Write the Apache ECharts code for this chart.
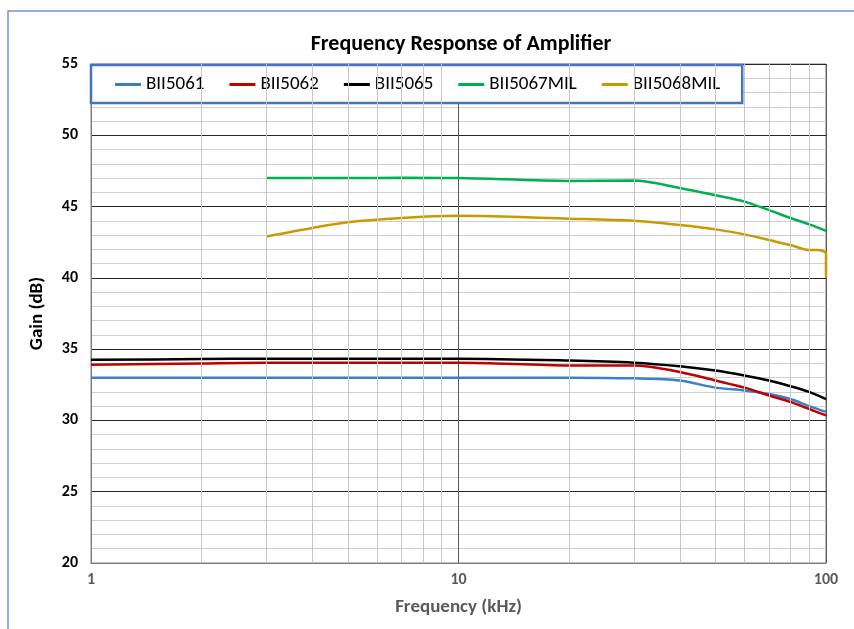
<!DOCTYPE html>
<html>
<head>
<meta charset="utf-8">
<script src="https://cdn.jsdelivr.net/npm/echarts@6/dist/echarts.min.js"></script>
<style>
  html, body { margin: 0; padding: 0; background: #fff; }
  #main { width: 854px; height: 629px; }
</style>
</head>
<body>
<div id="main"></div>
<script>
// frequencies (kHz)
var freqLow = [1, 2, 3, 5, 10, 20, 30, 40, 50, 60, 70, 80, 90, 100];
var freqMil = [3, 4, 5, 7, 10, 20, 30, 40, 50, 60, 70, 80, 90, 100];
var freqMil68 = [3, 4, 5, 7, 10, 20, 30, 40, 50, 60, 70, 80, 90, 95, 100, 100];

// gain (dB)
var bii5061 = [33.0, 33.0, 33.0, 33.0, 33.0, 33.0, 32.95, 32.8, 32.3, 32.1, 31.85, 31.5, 31.0, 30.6];
var bii5062 = [33.9, 34.0, 34.05, 34.05, 34.05, 33.85, 33.85, 33.4, 32.8, 32.3, 31.75, 31.3, 30.8, 30.35];
var bii5065 = [34.25, 34.3, 34.33, 34.33, 34.33, 34.2, 34.05, 33.8, 33.5, 33.15, 32.8, 32.4, 32.0, 31.5];
var bii5067mil = [47.0, 47.0, 47.0, 47.02, 47.0, 46.8, 46.82, 46.3, 45.8, 45.35, 44.75, 44.2, 43.75, 43.3];
var bii5068mil = [42.9, 43.5, 43.9, 44.2, 44.35, 44.15, 44.0, 43.7, 43.4, 43.05, 42.65, 42.3, 41.95, 41.95, 41.7, 40.0];

var seriesNames = ["BII5061", "BII5062", "BII5065", "BII5067MIL", "BII5068MIL"];
var seriesColors = ["#3b7fc4", "#c00000", "#000000", "#00b050", "#c89a00"];
var minorFreqs = [2, 3, 4, 5, 6, 7, 8, 9, 20, 30, 40, 50, 60, 70, 80, 90];

function pairs(xs, ys) {
    var out = [];
    for (var i = 0; i < xs.length; i++) out.push([xs[i], ys[i]]);
    return out;
}

var font = "Carlito, 'Liberation Sans Narrow', 'Liberation Sans', sans-serif";

var chart = echarts.init(document.getElementById("main"));

var lineSeries = [
    pairs(freqLow, bii5061),
    pairs(freqLow, bii5062),
    pairs(freqLow, bii5065),
    pairs(freqMil, bii5067mil),
    pairs(freqMil68, bii5068mil)
].map(function (d, i) {
    return {
        name: seriesNames[i],
        type: "line",
        data: d,
        smooth: 0.3,
        showSymbol: false,
        z: 3,
        lineStyle: { color: seriesColors[i], width: 2.5 },
        itemStyle: { color: seriesColors[i] }
    };
});

// minor log grid lines
lineSeries.unshift({
    name: "minor",
    type: "line",
    data: [],
    silent: true,
    z: 1,
    markLine: {
        silent: true,
        symbol: "none",
        label: { show: false },
        lineStyle: { color: "#c8c8c8", type: "solid", width: 1 },
        data: minorFreqs.map(function (f) { return { xAxis: f }; })
    }
});

var option = {
    backgroundColor: "#fff",
    animation: false,
    textStyle: { fontFamily: font },
    title: {
        text: "Frequency Response of Amplifier",
        left: 456,
        textAlign: "center",
        top: 28,
        textStyle: { fontFamily: font, fontSize: 22, fontWeight: "bold", color: "#000" }
    },
    graphic: [{
        type: "rect",
        shape: { x: 8, y: 11, width: 900, height: 700 },
        style: { fill: null, stroke: "#6f94d6", lineWidth: 1.5 },
        silent: true
    }],
    legend: {
        data: seriesNames,
        left: 91,
        top: 65,
        padding: [10, 22, 9, 24],
        itemGap: 25,
        itemWidth: 26,
        itemHeight: 3,
        icon: "rect",
        backgroundColor: "#fff",
        borderColor: "#4472c4",
        borderWidth: 2.5,
        borderRadius: 0,
        textStyle: { fontFamily: font, fontSize: 19, color: "#000" }
    },
    grid: {
        left: 91,
        right: 28,
        top: 64,
        bottom: 66,
        show: true,
        borderColor: "#7f7f7f",
        borderWidth: 1
    },
    xAxis: {
        type: "log",
        logBase: 10,
        min: 1,
        max: 100,
        name: "Frequency (kHz)",
        nameLocation: "middle",
        nameGap: 35,
        nameTextStyle: { fontFamily: font, fontSize: 19, fontWeight: "bold", color: "#595959" },
        axisLine: { lineStyle: { color: "#7f7f7f" } },
        axisTick: { show: false },
        axisLabel: { fontFamily: font, fontSize: 16, fontWeight: "bold", color: "#595959", margin: 9 },
        splitLine: { show: true, lineStyle: { color: "#595959", width: 1 } }
    },
    yAxis: {
        type: "value",
        min: 20,
        max: 55,
        interval: 5,
        name: "Gain (dB)",
        nameLocation: "middle",
        nameGap: 44,
        nameTextStyle: { fontFamily: font, fontSize: 19, fontWeight: "bold", color: "#000" },
        axisLine: { show: true, lineStyle: { color: "#7f7f7f" } },
        axisTick: { show: false },
        axisLabel: { fontFamily: font, fontSize: 16, fontWeight: "bold", color: "#000", margin: 13 },
        splitLine: { show: true, lineStyle: { color: "#262626", width: 1 } },
        minorTick: { show: false, splitNumber: 5 },
        minorSplitLine: { show: true, lineStyle: { color: "#cfcfcf", width: 1 } }
    },
    series: lineSeries
};

option && chart.setOption(option);
</script>
</body>
</html>
